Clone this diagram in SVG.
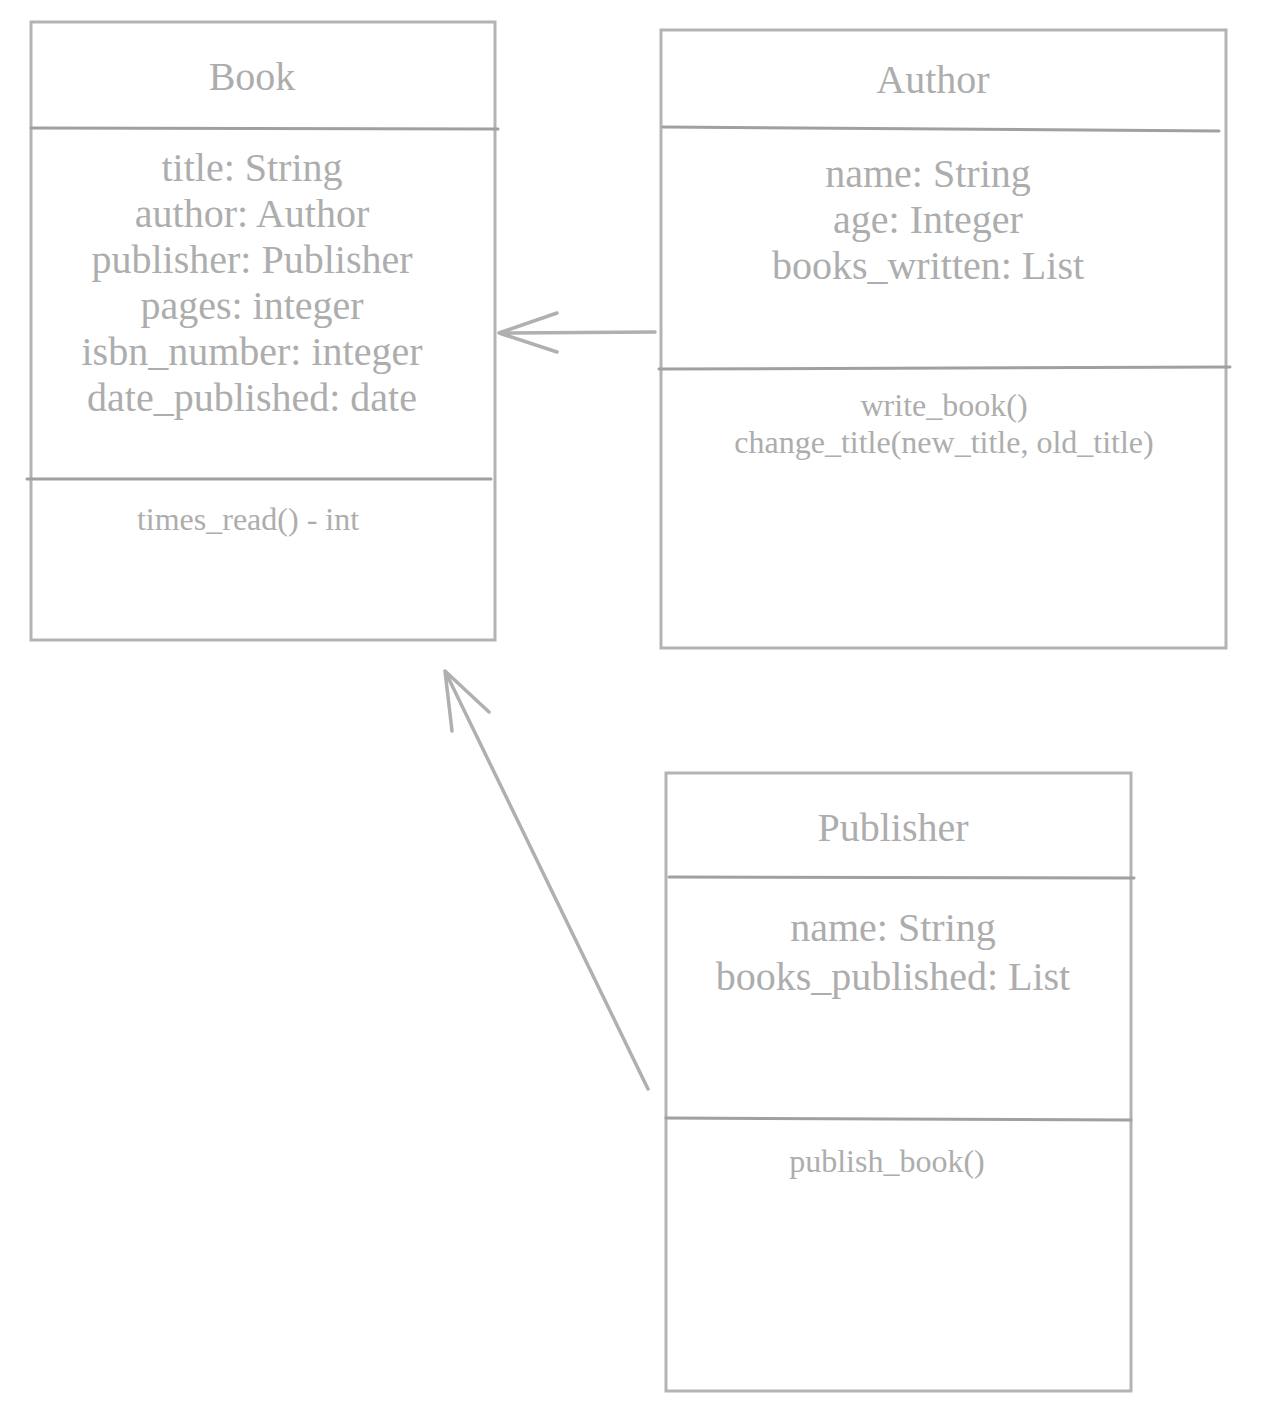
<svg xmlns="http://www.w3.org/2000/svg" width="1286" height="1408" viewBox="0 0 1286 1408">
<style>
.box{fill:#ffffff;stroke:#b3b3b3;stroke-width:3}
.div{stroke:#a0a0a0;stroke-width:3;stroke-linecap:round}
.t{font-family:"Liberation Serif","Times New Roman",serif;fill:#adadad;text-anchor:middle}
.big{font-size:40px}
.small{font-size:32px}
.conn{fill:none;stroke:#b0b0b0;stroke-width:3.5;stroke-linecap:round;stroke-linejoin:round}
</style>
<rect width="1286" height="1408" fill="#ffffff"/>
<g id="book">
<rect class="box" x="31" y="22" width="464" height="618"/>
<line class="div" x1="31" y1="128" x2="498" y2="129"/>
<line class="div" x1="27" y1="479" x2="491" y2="479"/>
<text class="t big" x="252" y="90">Book</text>
<text class="t big" x="252" y="181">title: String</text>
<text class="t big" x="252" y="227">author: Author</text>
<text class="t big" x="252" y="273">publisher: Publisher</text>
<text class="t big" x="252" y="319">pages: integer</text>
<text class="t big" x="252" y="365">isbn_number: integer</text>
<text class="t big" x="252" y="411">date_published: date</text>
<text class="t small" x="248" y="530">times_read() - int</text>
</g>
<g id="author">
<rect class="box" x="661" y="30" width="565" height="618"/>
<line class="div" x1="663" y1="127" x2="1219" y2="131"/>
<line class="div" x1="659" y1="369" x2="1230" y2="367"/>
<text class="t big" x="933" y="93">Author</text>
<text class="t big" x="928" y="187">name: String</text>
<text class="t big" x="928" y="233">age: Integer</text>
<text class="t big" x="928" y="279">books_written: List</text>
<text class="t small" x="944" y="416">write_book()</text>
<text class="t small" x="944" y="453">change_title(new_title, old_title)</text>
</g>
<g id="publisher">
<rect class="box" x="666" y="773" width="465" height="618"/>
<line class="div" x1="669" y1="877" x2="1134" y2="878"/>
<line class="div" x1="666" y1="1118" x2="1131" y2="1120"/>
<text class="t big" x="893" y="841">Publisher</text>
<text class="t big" x="893" y="941">name: String</text>
<text class="t big" x="893" y="990">books_published: List</text>
<text class="t small" x="887" y="1172">publish_book()</text>
</g>
<g id="connectors">
<path class="conn" d="M655,332 L499,333 M557,313 L499,333 L557,352"/>
<path class="conn" d="M648,1089 L445,671 M452,731 L445,671 L489,712"/>
</g>
</svg>
